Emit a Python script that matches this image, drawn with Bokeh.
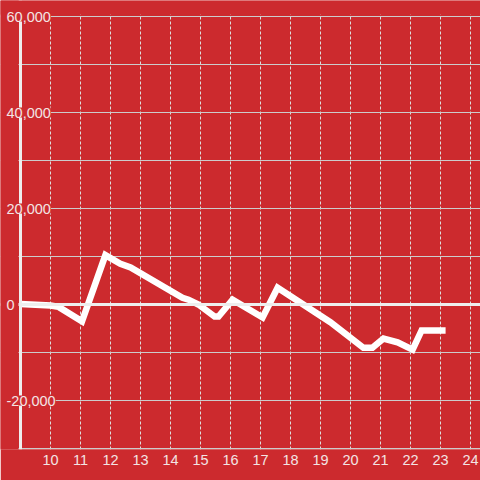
from bokeh.plotting import figure
from bokeh.models import FixedTicker, Span, LabelSet, ColumnDataSource, BoxAnnotation
from bokeh.core.properties import value
from bokeh.embed import file_html
from bokeh.resources import INLINE

# ---- data ----
hours = [9.0, 10.0, 10.27, 11.05, 11.83, 12.33, 12.67, 14.4, 14.6, 14.93,
         15.47, 15.6, 16.07, 17.07, 17.57, 19.33, 20.43, 20.73, 21.1, 21.57,
         22.07, 22.37, 23.17]
values = [100, -200, -500, -3500, 10300, 8500, 7700, 1400, 1000, 0,
          -2500, -2500, 1000, -2700, 3500, -3700, -9000, -9000, -7100, -7900,
          -9400, -5400, -5400]

x_axis_start = 9
y_axis_min, y_axis_max = -30000, 60000
x_ticks = list(range(10, 25))
y_grid_ticks = [60000, 50000, 40000, 30000, 20000, 10000, 0, -10000, -20000, -30000]
y_label_values = [60000, 40000, 20000, 0, -20000]
y_label_texts = ["60,000", "40,000", "20,000", "0", "-20,000"]

BG = "#cc2a2e"
LABEL = "#f3e4e4"
FONT = "Liberation Sans"

W, H = 480, 480
left_px, top_px, bottom_px = 20, 16, 449
px_x = 30.0                 # px per x unit
px_y = 48.0 / 10000         # px per y unit
x0 = x_axis_start - left_px / px_x
x1 = x_axis_start + (W - left_px) / px_x
y1 = y_axis_max + top_px / px_y
y0 = y_axis_min - (bottom_px - 448) / px_y

p = figure(width=W, height=H, x_range=(x0, x1), y_range=(y0, y1),
           output_backend="svg", toolbar_location=None,
           min_border_left=0, min_border_right=0, min_border_top=0,
           min_border_bottom=H - bottom_px,
           background_fill_color=BG, border_fill_color=BG, outline_line_color=None)

p.yaxis.visible = False
p.xaxis.ticker = FixedTicker(ticks=x_ticks)
p.xaxis.axis_line_color = None
p.xaxis.major_tick_line_color = None
p.xaxis.minor_tick_line_color = None
p.xaxis.major_tick_out = 0
p.xaxis.major_tick_in = 0
p.xaxis.major_label_standoff = 5
p.xaxis.major_label_text_font = FONT
p.xaxis.major_label_text_font_size = "14.5px"
p.xaxis.major_label_text_color = LABEL

p.xgrid.ticker = FixedTicker(ticks=x_ticks)
p.xgrid.grid_line_color = "#dddddd"
p.xgrid.grid_line_dash = "3 2"
p.ygrid.ticker = FixedTicker(ticks=y_grid_ticks)
p.ygrid.grid_line_color = "#cccccc"

p.line(hours, values, line_color="white", line_width=6.5, line_join="miter")

p.add_layout(Span(location=0, dimension="width", line_color="#eeeeee", line_width=3))
p.add_layout(BoxAnnotation(right=x_axis_start - 2 / px_x, fill_color=BG, fill_alpha=1,
                           line_color=None))
p.add_layout(Span(location=x_axis_start, dimension="height", line_color="#eeeeee", line_width=3))
p.add_layout(BoxAnnotation(bottom=y_axis_max + 2 / px_y, fill_color=BG, fill_alpha=1,
                           line_color=None))
p.add_layout(BoxAnnotation(top=y_axis_min - 1 / px_y, fill_color=BG, fill_alpha=1,
                           line_color=None))

src = ColumnDataSource(dict(x=[x_axis_start] * len(y_label_values),
                            y=y_label_values, text=y_label_texts))
p.add_layout(LabelSet(x="x", y="y", text="text", source=src, x_offset=-14,
                      text_align="left", text_baseline="middle",
                      text_font=value(FONT), text_font_size="14.5px", text_color=LABEL,
                      background_fill_color=BG))

open("out.html", "w").write(file_html(p, INLINE))
